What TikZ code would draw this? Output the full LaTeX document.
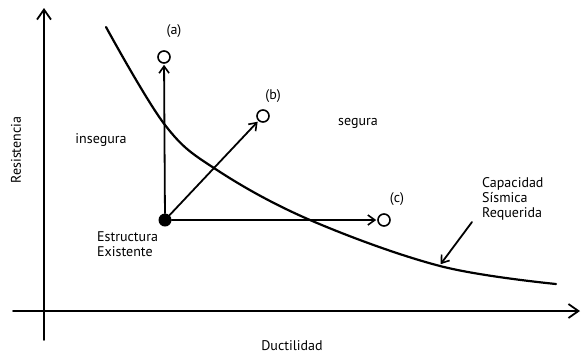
\documentclass[tikz,border=0pt]{standalone}
\usepackage{fontspec}
\setmainfont{PT Sans}
\usetikzlibrary{arrows.meta}
\begin{document}
\begin{tikzpicture}[x=1pt,y=-1pt,
  ln/.style={line width=1.8pt, line cap=round},
  axisarrow/.style={ln,-{Straight Barb[length=10pt,width=14pt,line width=1.8pt]}},
  vecarrow/.style={ln,-{Straight Barb[length=7pt,width=10pt,line width=1.6pt]}, shorten >=1pt},
  opencirc/.style={circle,draw,line width=1.6pt,fill=white,minimum size=12pt,inner sep=0pt},
  lbl/.style={font=\fontsize{14}{16}\selectfont, inner sep=1pt}]
\useasboundingbox (0,0) rectangle (583,360);
% axes
\coordinate (yb) at (44,340);
\coordinate (yt) at (44,8);
\coordinate (xl) at (13,311);
\coordinate (xr) at (580,311);
\draw[axisarrow] (yb) -- (yt);
\draw[axisarrow] (xl) -- (xr);
% curve
\draw[ln, line width=2.2pt] plot[smooth, tension=0.6] coordinates {(106,27) (165,125) (217,170) (310,220) (440,266) (556,284)};
% points
\node[circle, fill=black, minimum size=13pt, inner sep=0pt] (e) at (165,220) {};
\node[opencirc] (a) at (164,57) {};
\node[opencirc] (b) at (263,116) {};
\node[opencirc] (c) at (384,220) {};
\draw[vecarrow] (e) -- (a);
\draw[vecarrow] (e) -- (b);
\draw[vecarrow] (e) -- (c);
% labels
\node[lbl] (la) at (174,31) {(a)};
\node[lbl] (lb) at (273,96) {(b)};
\node[lbl] (lc) at (397,199) {(c)};
\node[lbl] (ins) at (101,140) {insegura};
\node[lbl] (seg) at (358,123) {segura};
\node[lbl, align=left, anchor=north west] (est) at (96,230) {Estructura\\[-1pt]Existente};
\node[lbl, align=left, anchor=north west] (cap) at (481,176) {Capacidad\\[-1pt]Sísmica\\[-1pt]Requerida};
\node[lbl, rotate=90] (res) at (16,150) {Resistencia};
\node[lbl] (duc) at (292,346) {Ductilidad};
% pointer
\coordinate (ptail) at (472,222);
\coordinate (phead) at (440,265);
\draw[vecarrow] (ptail) -- (phead);
\end{tikzpicture}
\end{document}
